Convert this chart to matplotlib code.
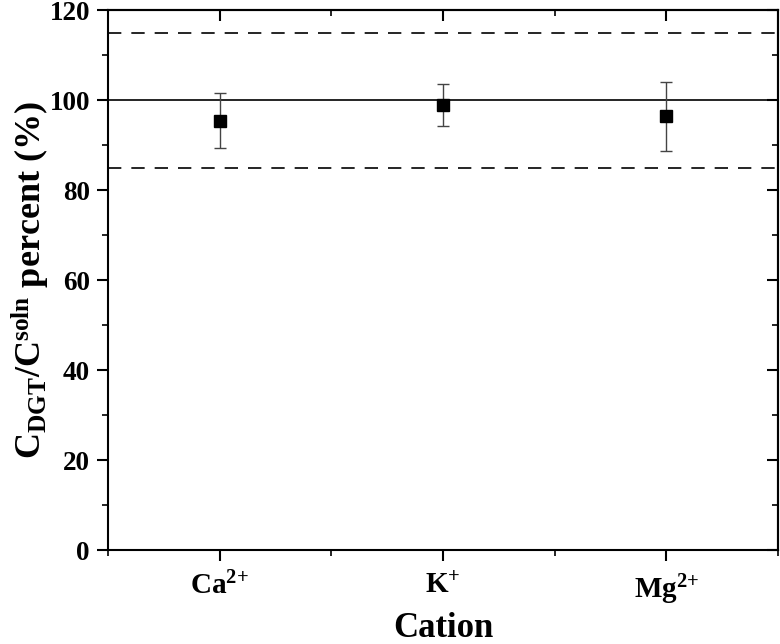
import matplotlib
matplotlib.use("Agg")
import matplotlib.pyplot as plt

cations = [r"Ca$^{2{+}}$", r"K$^{{+}}$", r"Mg$^{2{+}}$"]
values = [95.4, 98.9, 96.4]
errors = [6.1, 4.7, 7.7]
ref_line = 100
limits = [85, 115]

plt.rcParams['font.family'] = ['Liberation Serif', 'DejaVu Serif']
plt.rcParams['font.weight'] = 'bold'
plt.rcParams['mathtext.fontset'] = 'custom'
plt.rcParams['mathtext.rm'] = 'Liberation Serif:bold'
plt.rcParams['mathtext.bf'] = 'Liberation Serif:bold'
plt.rcParams['mathtext.it'] = 'Liberation Serif:bold'
plt.rcParams['mathtext.default'] = 'bf'

fig = plt.figure(figsize=(7.8, 6.44), dpi=100)
ax = fig.add_axes([108/780, 94/644, 670/780, 540/644])

x = [1, 2, 3]
ax.axhline(ref_line, color='black', lw=1.2, zorder=1)
for l in limits:
    ax.axhline(l, color='black', lw=1.2, ls=(0, (8, 6)), zorder=1)
ax.errorbar(x, values, yerr=errors, fmt='s', color='black', ms=8.5,
            ecolor='#444444', elinewidth=1.0, capsize=4.5, capthick=1.0, zorder=3)

ax.set_xlim(0.5, 3.5)
ax.set_ylim(0, 120)
ax.set_xticks(x)
ax.set_xticklabels(cations, fontsize=21)
ax.set_xticks([0.5, 1.5, 2.5, 3.5], minor=True)
ax.set_yticks(range(0, 121, 20))
ax.set_yticks(range(10, 120, 20), minor=True)

for s in ax.spines.values():
    s.set_linewidth(1.5)
ax.tick_params(axis='both', which='major', direction='out', length=8, width=1.5)
ax.tick_params(axis='y', labelsize=19.5, pad=5)
ax.tick_params(axis='both', which='minor', direction='out', length=4.5, width=1.2)
ax.tick_params(axis='x', pad=8)

top = ax.secondary_xaxis('top')
top.set_xticks(x)
top.set_xticks([0.5, 1.5, 2.5, 3.5], minor=True)
top.tick_params(which='major', direction='in', length=8, width=1.5, labeltop=False)
top.tick_params(which='minor', direction='in', length=4.5, width=1.2)
right = ax.secondary_yaxis('right')
right.set_yticks(range(0, 121, 20))
right.set_yticks(range(10, 120, 20), minor=True)
right.tick_params(which='major', direction='in', length=8, width=1.5, labelright=False)
right.tick_params(which='minor', direction='in', length=4.5, width=1.2)
for sa in (top, right):
    for s in sa.spines.values():
        s.set_linewidth(1.5)

ax.set_xlabel("Cation", fontsize=25, fontweight='bold')
ax.xaxis.set_label_coords(0.5, -62/540)
ax.set_ylabel(r"C$_{DGT}$/C$^{soln}$ percent (%)", fontsize=26, fontweight='bold')
ax.yaxis.set_label_coords(-56/670, 0.5)

fig.savefig("out.png", dpi=100)
